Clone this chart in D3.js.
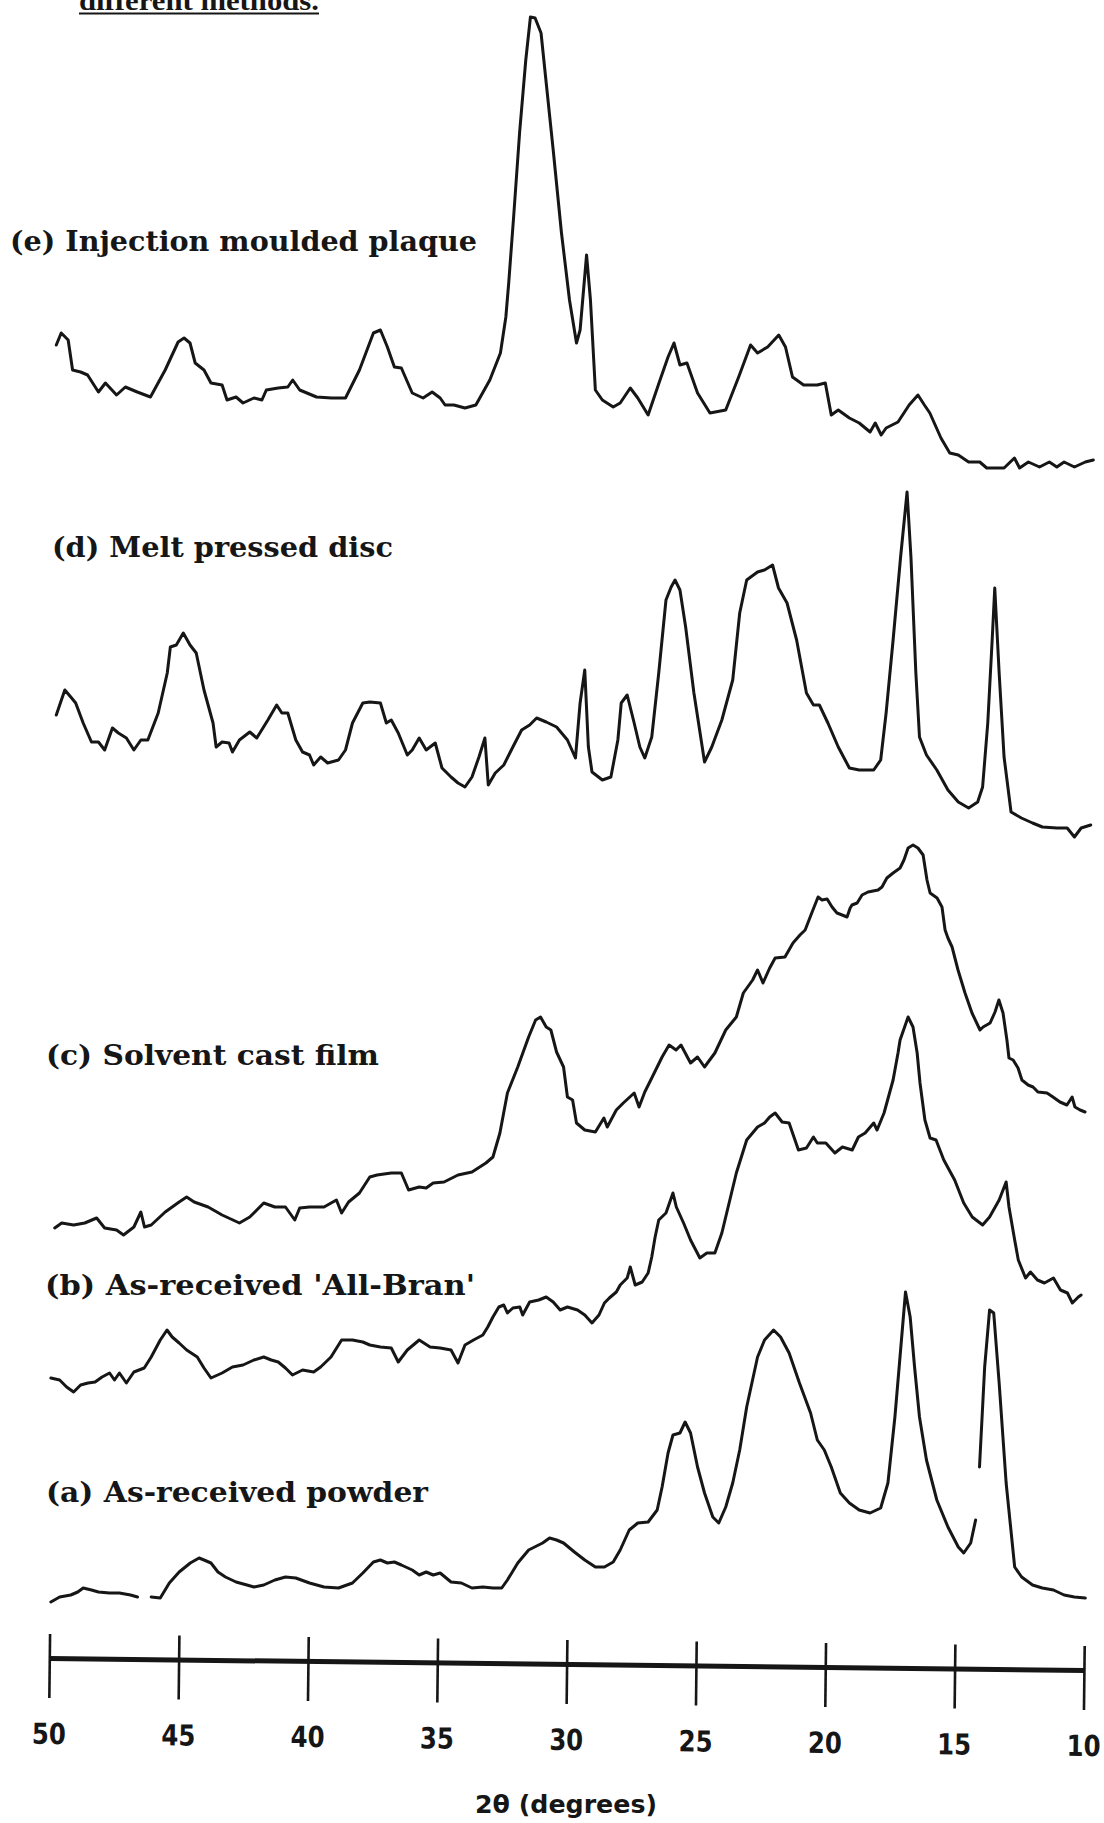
<!DOCTYPE html>
<html>
<head>
<meta charset="utf-8">
<script src="https://cdn.jsdelivr.net/npm/d3@7"></script>
<style>
  html, body { margin: 0; padding: 0; background: #fff; }
  svg { display: block; }
</style>
</head>
<body>
<script>
// X-ray diffraction traces, 2θ (degrees) vs intensity (arbitrary units, traces stacked with vertical offsets)

const captionText = "different methods.";
const axisTitle = "2\u03b8 (degrees)";
const tickValues = [50, 45, 40, 35, 30, 25, 20, 15, 10];
const traceLabels = [
  "(e) Injection moulded plaque",
  "(d) Melt pressed disc",
  "(c) Solvent cast film",
  "(b) As-received 'All-Bran'",
  "(a) As-received powder"
];

// (e) Injection moulded plaque
const traceE = [[49.73,1355],[49.54,1367],[49.27,1360],[49.10,1330],[48.79,1328],[48.52,1325],[48.10,1308],[47.83,1317],[47.40,1305],[47.06,1313],[46.60,1308],[46.09,1303],[45.52,1330],[45.02,1358],[44.79,1362],[44.56,1357],[44.36,1337],[44.02,1330],[43.75,1317],[43.32,1315],[43.13,1300],[42.78,1303],[42.51,1297],[42.09,1302],[41.78,1300],[41.61,1310],[41.15,1312],[40.78,1313],[40.59,1320],[40.32,1310],[39.67,1303],[39.09,1302],[38.55,1302],[38.01,1330],[37.47,1367],[37.20,1370],[36.93,1353],[36.66,1333],[36.39,1332],[35.97,1307],[35.55,1302],[35.20,1308],[34.89,1302],[34.70,1295],[34.36,1295],[33.93,1292],[33.51,1295],[32.97,1320],[32.56,1347],[32.35,1383],[32.24,1417],[32.05,1483],[31.82,1567],[31.58,1640],[31.40,1683],[31.22,1682],[30.99,1667],[30.79,1617],[30.52,1550],[30.20,1467],[29.89,1400],[29.62,1357],[29.48,1370],[29.23,1445],[29.08,1400],[28.89,1310],[28.62,1300],[28.20,1293],[27.93,1297],[27.54,1312],[27.25,1302],[26.85,1285],[26.43,1317],[26.08,1343],[25.85,1357],[25.62,1335],[25.35,1337],[24.94,1307],[24.46,1287],[23.85,1290],[23.35,1323],[22.89,1355],[22.62,1347],[22.23,1353],[21.80,1365],[21.54,1353],[21.27,1323],[20.84,1315],[20.31,1315],[20.00,1317],[19.77,1285],[19.50,1290],[19.07,1282],[18.69,1277],[18.27,1268],[18.07,1277],[17.84,1265],[17.65,1272],[17.19,1278],[16.76,1295],[16.42,1305],[16.17,1295],[15.96,1287],[15.53,1262],[15.19,1247],[14.86,1245],[14.46,1238],[14.03,1238],[13.76,1232],[13.09,1232],[12.69,1242],[12.49,1232],[12.15,1238],[11.72,1233],[11.34,1238],[11.05,1233],[10.77,1238],[10.37,1233],[9.95,1238],[9.64,1240]];

// (d) Melt pressed disc
const traceD = [[49.73,985],[49.40,1010],[49.17,1003],[48.98,997],[48.69,977],[48.37,958],[48.10,958],[47.86,950],[47.56,972],[47.33,967],[47.02,962],[46.73,950],[46.46,960],[46.19,960],[45.79,987],[45.44,1027],[45.32,1053],[45.09,1055],[44.82,1067],[44.56,1055],[44.32,1047],[44.02,1010],[43.67,977],[43.55,953],[43.32,958],[43.05,957],[42.92,948],[42.65,960],[42.25,968],[41.98,962],[41.55,980],[41.21,995],[41.01,987],[40.78,987],[40.47,960],[40.21,948],[39.94,945],[39.78,935],[39.51,943],[39.24,937],[38.82,940],[38.55,950],[38.28,977],[37.88,997],[37.61,998],[37.20,997],[36.97,977],[36.78,980],[36.51,967],[36.16,945],[35.97,950],[35.70,962],[35.43,950],[35.08,957],[34.82,932],[34.47,923],[34.20,917],[33.93,913],[33.66,923],[33.39,943],[33.16,962],[33.03,915],[32.76,927],[32.43,935],[32.08,953],[31.74,970],[31.43,975],[31.16,982],[30.79,978],[30.39,973],[29.97,960],[29.66,942],[29.48,997],[29.30,1030],[29.16,953],[29.02,928],[28.62,920],[28.29,923],[28.02,960],[27.89,997],[27.66,1005],[27.39,977],[27.17,953],[26.98,942],[26.71,963],[26.44,1027],[26.16,1100],[25.96,1113],[25.81,1120],[25.62,1110],[25.40,1073],[25.08,1007],[24.80,960],[24.67,938],[24.39,953],[24.00,980],[23.58,1020],[23.31,1087],[23.04,1120],[22.62,1128],[22.35,1130],[22.04,1135],[21.81,1112],[21.48,1097],[21.11,1060],[20.73,1007],[20.46,995],[20.23,995],[19.90,977],[19.50,953],[19.07,932],[18.69,930],[18.13,930],[17.86,940],[17.65,987],[17.38,1060],[17.09,1143],[16.84,1208],[16.69,1143],[16.50,1027],[16.36,963],[16.09,945],[15.69,930],[15.26,910],[14.86,898],[14.46,892],[14.11,898],[13.92,913],[13.72,977],[13.55,1060],[13.45,1112],[13.28,1027],[13.09,943],[12.82,888],[12.42,882],[11.99,877],[11.61,873],[11.05,872],[10.65,872],[10.37,863],[10.11,872],[9.74,875]];

// (c) Solvent cast film
const traceC = [[49.79,472],[49.52,477],[49.06,475],[48.63,477],[48.17,482],[47.86,472],[47.40,470],[47.13,465],[46.73,473],[46.46,488],[46.32,473],[46.06,475],[45.52,488],[44.98,498],[44.69,503],[44.40,498],[43.86,493],[43.32,485],[42.65,477],[42.25,483],[41.71,497],[41.28,493],[40.87,493],[40.51,480],[40.32,492],[39.94,493],[39.38,493],[38.90,500],[38.70,487],[38.43,498],[38.01,507],[37.61,523],[37.33,525],[36.78,527],[36.39,527],[36.11,510],[35.70,513],[35.43,512],[35.16,517],[34.74,518],[34.20,525],[33.66,528],[33.12,537],[32.85,543],[32.58,567],[32.29,607],[31.89,633],[31.47,663],[31.20,680],[31.01,683],[30.79,673],[30.61,670],[30.39,648],[30.12,633],[29.97,603],[29.77,600],[29.62,577],[29.30,570],[28.89,568],[28.56,582],[28.43,573],[28.08,590],[27.81,597],[27.39,607],[27.20,593],[26.98,608],[26.71,622],[26.31,643],[26.04,655],[25.77,650],[25.58,655],[25.21,637],[24.94,643],[24.67,633],[24.27,647],[23.85,670],[23.44,683],[23.17,707],[22.81,720],[22.62,730],[22.41,717],[22.15,732],[21.94,742],[21.56,743],[21.25,757],[20.98,765],[20.78,770],[20.51,788],[20.28,803],[20.13,800],[19.93,801],[19.74,793],[19.55,787],[19.35,785],[19.16,783],[19.04,792],[18.97,795],[18.77,797],[18.58,805],[18.35,808],[17.96,810],[17.81,813],[17.62,822],[17.38,827],[17.11,832],[16.96,840],[16.80,852],[16.61,855],[16.42,852],[16.22,845],[16.07,820],[15.95,807],[15.68,802],[15.49,793],[15.37,770],[15.26,762],[15.10,753],[14.87,730],[14.60,707],[14.33,687],[14.02,670],[13.90,673],[13.63,677],[13.44,688],[13.29,700],[13.13,687],[12.98,660],[12.90,642],[12.74,640],[12.55,632],[12.40,620],[12.16,615],[11.97,613],[11.78,608],[11.43,607],[11.20,603],[10.93,598],[10.66,595],[10.46,603],[10.35,593],[10.15,590],[9.96,588]];

// (b) As-received 'All-Bran'
const traceB = [[49.94,322],[49.60,320],[49.33,313],[49.06,308],[48.79,315],[48.50,317],[48.23,318],[47.96,323],[47.67,327],[47.48,320],[47.29,327],[47.02,317],[46.73,328],[46.33,332],[46.06,343],[45.71,360],[45.45,370],[45.25,363],[44.98,357],[44.69,350],[44.28,343],[44.02,332],[43.75,322],[43.32,327],[42.92,333],[42.51,335],[42.09,340],[41.71,343],[41.42,340],[41.15,338],[40.87,332],[40.60,325],[40.21,330],[39.78,328],[39.51,333],[39.11,343],[38.70,360],[38.28,360],[37.88,358],[37.61,355],[37.20,353],[36.78,352],[36.51,338],[36.16,350],[35.70,360],[35.28,353],[34.89,352],[34.47,350],[34.20,337],[33.93,355],[33.60,360],[33.24,365],[33.05,373],[32.85,383],[32.62,393],[32.43,395],[32.29,387],[32.08,392],[31.81,393],[31.70,385],[31.43,398],[31.08,400],[30.79,403],[30.52,398],[30.25,390],[29.97,393],[29.58,390],[29.30,385],[29.02,377],[28.75,385],[28.54,397],[28.35,402],[28.08,408],[27.93,415],[27.66,422],[27.54,433],[27.35,415],[27.08,418],[26.85,427],[26.71,443],[26.58,463],[26.44,480],[26.16,487],[25.89,507],[25.76,493],[25.48,477],[25.21,460],[24.85,442],[24.58,447],[24.27,447],[24.00,467],[23.44,527],[23.04,560],[22.62,573],[22.35,577],[22.15,583],[21.94,587],[21.67,578],[21.40,577],[21.04,550],[20.73,552],[20.46,563],[20.31,557],[19.98,557],[19.63,547],[19.34,553],[18.96,550],[18.72,563],[18.46,567],[18.13,577],[18.00,570],[17.73,587],[17.38,620],[17.19,647],[17.11,660],[16.80,683],[16.61,673],[16.45,647],[16.34,617],[16.15,580],[15.95,562],[15.72,560],[15.42,540],[15.00,520],[14.65,497],[14.32,483],[13.92,475],[13.65,483],[13.28,500],[13.01,518],[12.90,493],[12.68,460],[12.54,440],[12.26,422],[12.07,428],[11.80,420],[11.53,417],[11.18,422],[10.91,410],[10.64,407],[10.45,397],[10.22,403],[10.11,405]];

// (a) As-received powder (null marks breaks in the trace)
const traceA = [[49.94,98],[49.60,103],[49.17,105],[48.90,108],[48.69,112],[48.37,110],[48.10,108],[47.67,107],[47.29,107],[46.86,105],[46.59,103],[46.35,null],[46.06,103],[45.71,102],[45.36,117],[44.98,128],[44.55,137],[44.21,142],[44.02,140],[43.75,137],[43.48,128],[43.19,123],[42.78,118],[42.36,115],[42.09,113],[41.71,115],[41.28,120],[40.87,123],[40.47,122],[39.94,117],[39.38,113],[38.82,112],[38.28,117],[37.88,127],[37.47,138],[37.20,140],[36.93,137],[36.66,138],[36.39,135],[35.97,130],[35.70,125],[35.43,128],[35.16,125],[34.89,127],[34.47,118],[34.07,117],[33.66,112],[33.24,113],[32.85,112],[32.51,112],[32.29,120],[31.89,137],[31.47,150],[30.93,157],[30.66,162],[30.39,160],[30.12,157],[29.70,148],[29.30,140],[28.89,133],[28.54,133],[28.20,138],[27.93,150],[27.58,170],[27.25,177],[26.85,178],[26.50,190],[26.31,213],[26.08,247],[25.89,265],[25.62,267],[25.42,278],[25.21,267],[24.94,233],[24.67,207],[24.35,183],[24.12,177],[23.85,193],[23.58,217],[23.31,250],[23.04,293],[22.62,343],[22.35,360],[22.00,370],[21.73,363],[21.40,347],[21.00,317],[20.57,287],[20.31,260],[20.04,250],[19.77,233],[19.42,207],[19.07,197],[18.69,190],[18.27,187],[17.86,192],[17.58,217],[17.31,283],[17.09,350],[16.90,408],[16.72,383],[16.55,333],[16.36,283],[16.09,240],[15.69,200],[15.26,173],[14.86,153],[14.65,147],[14.38,157],[14.19,180],[14.12,null],[14.04,233],[13.84,333],[13.65,390],[13.49,387],[13.28,317],[13.01,217],[12.68,133],[12.41,123],[11.99,115],[11.61,112],[11.18,110],[10.77,105],[10.37,103],[9.95,102]];

const traces = [traceE, traceD, traceC, traceB, traceA];

// ---- drawing ----
const W = 1104, H = 1823;
const ink = "#161616";

const svg = d3.select("body").append("svg")
  .attr("width", W).attr("height", H)
  .attr("viewBox", `0 0 ${W} ${H}`);

svg.append("rect").attr("width", W).attr("height", H).attr("fill", "#fff");

const x = d3.scaleLinear().domain([50, 10]).range([49.3, 1084]);
const y = d3.scaleLinear().domain([0, 1700]).range([1700, 0]);

// caption fragment running off the top edge
svg.append("text")
  .attr("x", 79).attr("y", 10)
  .attr("font-family", "'Liberation Serif', 'Times New Roman', serif")
  .attr("font-weight", "bold")
  .attr("font-size", 28)
  .attr("textLength", 240)
  .attr("lengthAdjust", "spacingAndGlyphs")
  .attr("fill", ink)
  .text(captionText);
svg.append("line")
  .attr("x1", 79).attr("x2", 319).attr("y1", 13.5).attr("y2", 13.5)
  .attr("stroke", ink).attr("stroke-width", 2.2);

// traces
const line = d3.line()
  .defined(d => d[1] != null)
  .x(d => x(d[0]))
  .y(d => y(d[1]))
  .curve(d3.curveLinear);

svg.append("g").selectAll("path")
  .data(traces)
  .join("path")
  .attr("d", line)
  .attr("fill", "none")
  .attr("stroke", ink)
  .attr("stroke-width", 3)
  .attr("stroke-linejoin", "round")
  .attr("stroke-linecap", "round");

// trace labels
const labelLayout = [
  { x: 10, y: 251, w: 467 },
  { x: 52, y: 557, w: 341 },
  { x: 46, y: 1065, w: 333 },
  { x: 45, y: 1295, w: 430 },
  { x: 46, y: 1502, w: 382 }
];
svg.append("g").selectAll("text")
  .data(traceLabels)
  .join("text")
  .attr("x", (d, i) => labelLayout[i].x)
  .attr("y", (d, i) => labelLayout[i].y)
  .attr("textLength", (d, i) => labelLayout[i].w)
  .attr("lengthAdjust", "spacingAndGlyphs")
  .attr("font-family", "'DejaVu Serif', serif")
  .attr("font-weight", "bold")
  .attr("font-size", 28)
  .attr("fill", ink)
  .text(d => d);

// 2θ axis (slightly tilted baseline)
const axis = d3.axisBottom(x)
  .tickValues(tickValues)
  .tickFormat(d3.format("d"))
  .tickSizeInner(40)
  .tickSizeOuter(0);

const gAxis = svg.append("g")
  .attr("transform", "translate(0,1658) rotate(0.66, 49.3, 0)")
  .call(axis);

gAxis.select(".domain")
  .attr("stroke", ink)
  .attr("stroke-width", 5);

gAxis.selectAll(".tick line")
  .attr("stroke", ink)
  .attr("stroke-width", 2.6)
  .attr("y1", -24)
  .attr("y2", 40);

gAxis.selectAll(".tick text")
  .attr("y", 86)
  .attr("dy", 0)
  .attr("fill", ink)
  .attr("font-family", "'DejaVu Sans', sans-serif")
  .attr("font-stretch", "condensed")
  .attr("font-weight", "bold")
  .attr("font-size", 29)
  .attr("textLength", 34)
  .attr("lengthAdjust", "spacingAndGlyphs");

svg.append("text")
  .attr("x", 566).attr("y", 1813)
  .attr("text-anchor", "middle")
  .attr("font-family", "'DejaVu Sans', sans-serif")
  .attr("font-stretch", "condensed")
  .attr("font-weight", "bold")
  .attr("font-size", 25)
  .attr("textLength", 182)
  .attr("lengthAdjust", "spacingAndGlyphs")
  .attr("fill", ink)
  .text(axisTitle);
</script>
</body>
</html>
